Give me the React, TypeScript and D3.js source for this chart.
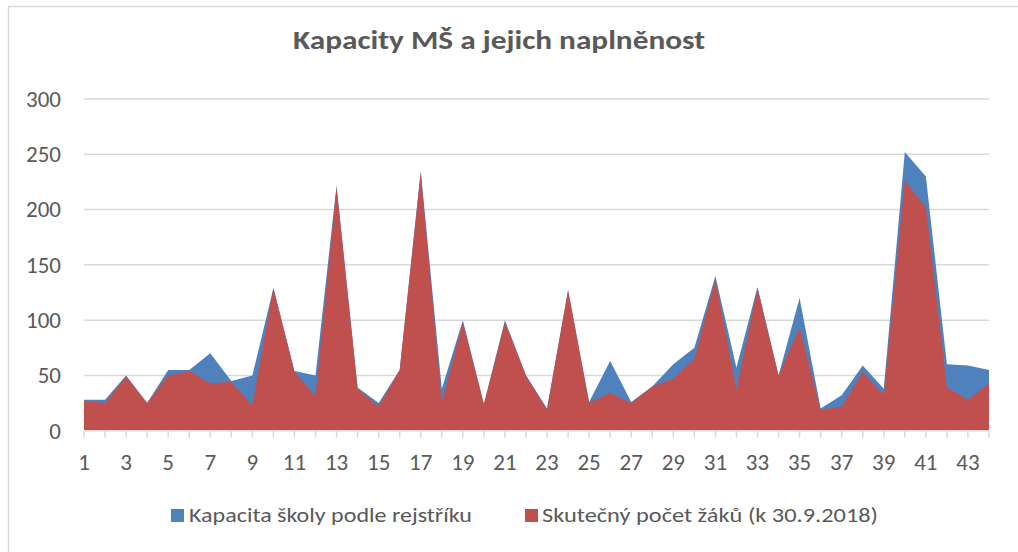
import { useMemo } from "react";
import * as d3 from "d3";

// categories 1..44 (school numbers)
const categories = [
  1, 2, 3, 4, 5, 6, 7, 8, 9, 10, 11, 12, 13, 14, 15, 16, 17, 18, 19, 20, 21, 22,
  23, 24, 25, 26, 27, 28, 29, 30, 31, 32, 33, 34, 35, 36, 37, 38, 39, 40, 41, 42, 43, 44,
];

// Kapacita školy podle rejstříku
const capacity = [
  28, 28, 50, 25, 55, 55, 70, 45, 50, 129, 54, 50, 222, 39, 25, 55, 235, 38, 100, 24, 100, 50,
  20, 127, 26, 63, 26, 40, 60, 75, 140, 57, 130, 50, 120, 20, 32, 59, 38, 252, 230, 60, 59, 55,
];

// Skutečný počet žáků (k 30.9.2018)
const actual = [
  27, 25, 49, 25, 50, 54, 43, 44, 23, 129, 53, 31, 220, 38, 22, 55, 233, 25, 98, 24, 98, 50,
  19, 127, 25, 34, 25, 40, 47, 65, 137, 37, 129, 50, 93, 19, 22, 53, 32, 226, 202, 39, 28, 43,
];

const yTicks = [0, 50, 100, 150, 200, 250, 300];
const title = "Kapacity MŠ a jejich naplněnost";
const seriesNames = ["Kapacita školy podle rejstříku", "Skutečný počet žáků (k 30.9.2018)"];
const colors = ["#4f81bd", "#c0504d"];

const W = 1018;
const H = 552;
const font = "Calibri, Carlito, 'Open Sans', sans-serif";
const textColor = "#595959";

export default function App() {
  const x = useMemo(() => d3.scaleLinear().domain([1, 44]).range([84, 989]), []);
  const y = useMemo(() => d3.scaleLinear().domain([0, 300]).range([430.7, 99]), []);

  const area = d3
    .area<number>()
    .x((_, i) => x(categories[i]))
    .y0(y(0))
    .y1((d) => y(d));

  return (
    <svg
      width={W}
      height={H}
      style={{ position: "absolute", left: 0, top: 0, background: "#fff" }}
      fontFamily={font}
    >
      {/* chart border: only left and top edges fall inside the picture */}
      <rect x={8.5} y={6.5} width={1030} height={570} fill="#fff" stroke="#d9d9d9" strokeWidth={1.5} />
      <text
        x={499}
        y={49}
        textAnchor="middle"
        fontSize={26}
        fontWeight="bold"
        fill={textColor}
        textLength={412}
        lengthAdjust="spacingAndGlyphs"
      >
        {title}
      </text>

      {/* gridlines and y labels */}
      {yTicks.map((t) => (
        <g key={t}>
          {t > 0 && <line x1={84} x2={989} y1={y(t)} y2={y(t)} stroke="#d9d9d9" strokeWidth={1.5} />}
          <text x={61} y={y(t)} dy="0.34em" textAnchor="end" fontSize={23} fill={textColor}>
            {t}
          </text>
        </g>
      ))}

      <path d={area(capacity) ?? ""} fill={colors[0]} />
      <path d={area(actual) ?? ""} fill={colors[1]} />

      {/* x axis */}
      <line x1={84} x2={989} y1={y(0)} y2={y(0)} stroke="#d9d9d9" strokeWidth={1.5} />
      {categories.map((c) => (
        <g key={c}>
          <line x1={x(c)} x2={x(c)} y1={y(0)} y2={y(0) + 7} stroke="#d9d9d9" strokeWidth={1.5} />
          {c % 2 === 1 && (
            <text x={x(c)} y={470} textAnchor="middle" fontSize={23} fill={textColor}>
              {c}
            </text>
          )}
        </g>
      ))}

      {/* legend */}
      <rect x={171} y={509} width={13} height={13} fill={colors[0]} />
      <text x={189} y={522} fontSize={21} fill={textColor} textLength={283} lengthAdjust="spacingAndGlyphs">
        {seriesNames[0]}
      </text>
      <rect x={525} y={509} width={13} height={13} fill={colors[1]} />
      <text x={542} y={522} fontSize={21} fill={textColor} textLength={336} lengthAdjust="spacingAndGlyphs">
        {seriesNames[1]}
      </text>
    </svg>
  );
}
